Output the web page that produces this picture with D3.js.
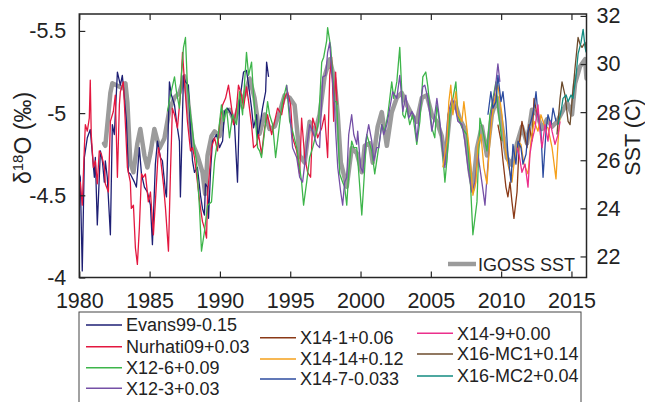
<!DOCTYPE html>
<html><head><meta charset="utf-8">
<script src="https://cdn.jsdelivr.net/npm/d3@7"></script>
<style>
html,body{margin:0;padding:0;background:#fff;}
svg text{font-family:"Liberation Sans",Arial,Helvetica,sans-serif;fill:#222;}
</style></head>
<body>
<svg id="chart" width="645" height="402"></svg>
<script>
// ---------------- data ----------------
const xTicks = [1980,1985,1990,1995,2000,2005,2010,2015];
const leftTicks = [-5.5,-5,-4.5,-4];
const rightTicks = [22,24,26,28,30,32];

const igoss = [[1981.76,26.7],[1981.85,26.6],[1982.21,28.8],[1982.35,29.2],[1982.71,29.1],[1983.06,29.0],[1983.28,29.2],[1983.42,28.4],[1983.63,25.9],[1983.85,25.5],[1984.13,26.7],[1984.34,27.3],[1984.63,26.2],[1984.84,25.7],[1985.06,26.3],[1985.34,27.3],[1985.70,26.5],[1986.05,26.9],[1986.41,28.1],[1986.77,28.6],[1987.12,28.8],[1987.48,29.5],[1987.69,28.7],[1988.05,26.7],[1988.40,26.2],[1988.76,25.5],[1988.95,24.6],[1989.12,26.2],[1989.40,27.0],[1989.62,27.2],[1989.97,27.0],[1990.33,28.0],[1990.68,28.1],[1991.04,27.6],[1991.40,28.4],[1991.75,28.7],[1992.11,29.4],[1992.46,28.6],[1992.82,27.1],[1993.18,27.9],[1993.53,27.3],[1993.89,27.4],[1994.25,28.0],[1994.60,28.7],[1994.96,28.6],[1995.31,28.3],[1995.67,26.2],[1996.03,25.9],[1996.38,27.6],[1996.74,27.1],[1997.09,27.9],[1997.45,29.5],[1997.81,30.2],[1998.16,29.3],[1998.38,27.9],[1998.60,25.9],[1999.02,24.9],[1999.37,26.5],[1999.73,26.3],[2000.09,25.5],[2000.30,26.6],[2000.66,26.7],[2000.87,25.9],[2001.22,27.4],[2001.51,28.0],[2001.87,26.6],[2002.22,28.0],[2002.58,28.6],[2002.93,28.8],[2003.29,28.3],[2003.65,27.9],[2004.00,27.6],[2004.36,28.6],[2004.72,28.7],[2005.07,27.9],[2005.43,27.6],[2005.78,27.0],[2006.00,25.9],[2006.35,27.9],[2006.71,28.4],[2007.07,27.7],[2007.42,27.3],[2007.78,25.5],[2007.99,24.8],[2008.28,26.5],[2008.63,27.4],[2008.99,26.2],[2009.34,27.9],[2009.70,28.6],[2010.06,27.4],[2010.41,26.1],[2010.77,25.8],[2011.13,26.7],[2011.48,27.4],[2011.84,26.7],[2012.19,28.1],[2012.55,27.9],[2012.91,27.3],[2013.26,27.7],[2013.62,27.4],[2013.97,27.6],[2014.33,28.0],[2014.69,28.4],[2015.04,27.9],[2015.26,29.2],[2015.61,29.9],[2015.97,30.2],[2016.07,29.4]];

const evans99 = [[1980.00,-4.63],[1980.07,-4.61],[1980.21,-4.04],[1980.36,-4.73],[1980.57,-4.85],[1980.78,-4.90],[1980.93,-4.75],[1981.07,-4.61],[1981.14,-4.73],[1981.28,-4.32],[1981.50,-4.77],[1981.64,-4.71],[1981.78,-4.58],[1981.85,-4.71],[1981.99,-4.61],[1982.21,-4.26],[1982.35,-4.93],[1982.49,-4.87],[1982.71,-5.25],[1982.92,-5.17],[1983.06,-5.23],[1983.21,-5.09],[1983.35,-4.95],[1983.49,-4.64],[1983.63,-4.63],[1983.92,-4.58],[1984.06,-4.55],[1984.27,-4.79],[1984.42,-4.63],[1984.63,-4.55],[1984.84,-4.52],[1985.06,-4.44],[1985.20,-4.20],[1985.41,-4.69],[1985.56,-4.83],[1985.77,-4.73],[1985.91,-4.71],[1986.13,-4.52],[1986.20,-4.49],[1986.41,-5.19],[1986.55,-5.11],[1986.77,-5.05],[1986.91,-4.95],[1987.12,-4.83],[1987.19,-4.49],[1987.41,-5.23],[1987.55,-5.19],[1987.76,-5.17],[1987.91,-4.89],[1988.05,-4.71],[1988.19,-4.64],[1988.40,-4.67],[1988.62,-4.50],[1988.76,-4.42],[1988.90,-4.38],[1988.97,-4.57],[1989.12,-4.55],[1989.19,-4.36],[1989.33,-4.64],[1989.47,-4.83],[1989.76,-4.87],[1989.97,-4.79],[1990.19,-4.83],[1990.33,-5.01],[1990.54,-5.03],[1990.83,-4.99],[1991.04,-4.93],[1991.25,-4.58],[1991.40,-5.07],[1991.54,-5.16],[1991.68,-5.25],[1991.89,-5.26],[1992.04,-5.17],[1992.25,-5.03],[1992.39,-4.91],[1992.61,-4.99],[1992.68,-4.85],[1992.89,-4.95],[1993.03,-5.03],[1993.25,-5.13],[1993.32,-5.31],[1993.46,-5.22]];

const nurhati09 = [[1980.00,-4.58],[1980.07,-4.58],[1980.21,-4.44],[1980.36,-4.79],[1980.43,-4.93],[1980.57,-4.89],[1980.71,-4.97],[1980.78,-5.20],[1980.85,-4.87],[1981.00,-4.67],[1981.14,-4.71],[1981.28,-4.57],[1981.42,-4.77],[1981.57,-4.75],[1981.78,-4.67],[1981.85,-4.57],[1982.07,-4.52],[1982.21,-4.95],[1982.42,-5.01],[1982.56,-5.11],[1982.71,-4.61],[1982.85,-5.05],[1982.92,-5.13],[1983.13,-5.19],[1983.28,-4.93],[1983.42,-4.67],[1983.63,-4.58],[1983.70,-4.42],[1983.85,-4.44],[1983.99,-4.18],[1984.13,-4.08],[1984.27,-4.30],[1984.42,-4.63],[1984.56,-4.61],[1984.70,-4.63],[1984.91,-4.46],[1985.06,-4.52],[1985.27,-4.26],[1985.41,-4.46],[1985.63,-4.79],[1985.77,-4.73],[1985.98,-4.57],[1986.13,-4.42],[1986.34,-4.16],[1986.48,-4.63],[1986.62,-5.03],[1986.77,-4.99],[1986.98,-4.91],[1987.19,-5.11],[1987.34,-5.37],[1987.48,-5.19],[1987.69,-4.95],[1987.91,-4.77],[1988.05,-4.79],[1988.19,-4.73],[1988.40,-4.58],[1988.62,-4.42],[1988.76,-4.34],[1988.90,-4.30],[1989.05,-4.24],[1989.12,-4.50],[1989.40,-4.79],[1989.62,-4.85],[1989.83,-4.77],[1989.97,-4.93],[1990.19,-5.05],[1990.40,-5.09],[1990.61,-5.17],[1990.83,-5.03],[1990.97,-4.93],[1991.18,-5.03],[1991.32,-5.17],[1991.54,-5.11],[1991.68,-5.03],[1991.89,-5.16],[1992.04,-5.07],[1992.25,-4.93],[1992.39,-4.79],[1992.61,-4.81],[1992.75,-4.87],[1992.96,-4.75],[1993.18,-4.91],[1993.39,-4.99],[1993.53,-4.93],[1993.68,-4.87],[1993.89,-4.95],[1994.10,-5.03],[1994.39,-4.99],[1994.60,-5.09],[1994.81,-5.13],[1995.03,-5.05],[1995.17,-4.85],[1995.46,-4.77],[1995.67,-4.63],[1995.81,-4.97],[1996.03,-4.73],[1996.24,-4.64],[1996.45,-4.61],[1996.60,-4.97],[1996.81,-4.91],[1996.95,-4.85],[1997.24,-4.91],[1997.45,-4.99],[1997.66,-4.73],[1997.81,-5.23],[1997.95,-5.34],[1998.09,-4.95],[1998.23,-5.25],[1998.33,-5.05]];

const x12_6 = [[1986.27,-5.01],[1986.48,-5.11],[1986.77,-5.22],[1986.91,-5.13],[1987.12,-5.03],[1987.26,-5.23],[1987.41,-5.40],[1987.55,-5.46],[1987.69,-5.16],[1987.91,-4.99],[1988.19,-4.79],[1988.33,-4.71],[1988.55,-4.42],[1988.69,-4.16],[1988.90,-4.28],[1989.12,-4.44],[1989.40,-4.46],[1989.62,-4.71],[1989.83,-4.83],[1990.11,-5.05],[1990.26,-4.95],[1990.47,-5.03],[1990.68,-4.85],[1990.90,-4.99],[1991.18,-4.93],[1991.40,-5.13],[1991.61,-4.99],[1991.89,-5.37],[1992.04,-5.23],[1992.25,-5.31],[1992.39,-5.11],[1992.68,-4.79],[1992.82,-4.77],[1992.96,-4.73],[1993.18,-4.89],[1993.39,-5.07],[1993.53,-4.99],[1993.75,-4.93],[1993.96,-4.73],[1994.10,-4.83],[1994.32,-4.99],[1994.46,-5.07],[1994.74,-5.17],[1994.96,-4.95],[1995.17,-4.89],[1995.46,-4.79],[1995.67,-4.67],[1995.81,-4.58],[1995.95,-4.44],[1996.17,-4.58],[1996.38,-4.73],[1996.60,-4.79],[1996.88,-4.89],[1997.02,-4.95],[1997.24,-5.31],[1997.38,-5.34],[1997.59,-5.44],[1997.66,-5.52],[1997.88,-5.40],[1998.02,-5.23],[1998.16,-5.07],[1998.30,-5.07],[1998.52,-4.63],[1998.73,-4.58],[1998.87,-4.55],[1999.02,-4.44],[1999.16,-4.64],[1999.37,-4.83],[1999.52,-4.79],[1999.73,-4.79],[1999.87,-4.64],[2000.09,-4.38],[2000.23,-4.57],[2000.44,-4.87],[2000.58,-4.83],[2000.80,-4.77],[2001.01,-4.63],[2001.22,-4.75],[2001.51,-4.93],[2001.72,-4.89],[2001.94,-4.99],[2002.22,-5.19],[2002.36,-5.09],[2002.58,-5.19],[2002.79,-5.40],[2003.01,-4.99],[2003.15,-4.97],[2003.29,-5.03],[2003.50,-4.93],[2003.72,-4.99],[2004.00,-4.81],[2004.22,-4.95],[2004.43,-5.22],[2004.64,-5.25],[2004.79,-5.16],[2005.07,-4.91],[2005.28,-4.85],[2005.43,-5.05],[2005.64,-4.93],[2005.85,-4.75],[2006.00,-4.58],[2006.14,-4.71],[2006.35,-4.99],[2006.57,-5.09],[2006.78,-5.19],[2006.92,-4.99],[2007.21,-4.91],[2007.56,-4.87],[2007.78,-4.64],[2007.99,-4.26],[2008.28,-4.46],[2008.49,-4.97],[2008.70,-4.89],[2008.99,-4.77],[2009.20,-4.99],[2009.42,-5.09],[2009.63,-5.19],[2009.77,-5.03],[2010.06,-4.83]];

const x12_3 = [[1994.74,-5.17],[1994.96,-5.01],[1995.17,-4.79],[1995.46,-4.73],[1995.67,-4.61],[1995.88,-4.58],[1996.17,-4.79],[1996.38,-4.93],[1996.60,-4.89],[1996.88,-4.81],[1997.09,-4.79],[1997.31,-5.22],[1997.52,-5.23],[1997.66,-5.37],[1997.81,-5.43],[1997.95,-5.25],[1998.16,-5.03],[1998.23,-4.89],[1998.38,-4.67],[1998.59,-4.52],[1998.73,-4.44],[1998.87,-4.58],[1999.02,-4.61],[1999.16,-4.87],[1999.37,-4.99],[1999.52,-4.87],[1999.73,-4.81],[1999.80,-4.89],[2000.01,-4.67],[2000.16,-4.64],[2000.37,-4.83],[2000.58,-4.93],[2000.80,-4.83],[2000.94,-4.71],[2001.15,-4.79],[2001.30,-4.79],[2001.51,-4.93],[2001.65,-4.87],[2001.87,-4.93],[2002.08,-5.03],[2002.29,-5.13],[2002.58,-5.09],[2002.79,-5.23],[2003.01,-5.01],[2003.22,-5.11],[2003.43,-4.97],[2003.65,-5.01],[2003.86,-4.97],[2004.00,-4.83],[2004.22,-5.03],[2004.43,-5.16],[2004.57,-5.17],[2004.79,-5.09],[2005.07,-4.89],[2005.28,-4.99],[2005.43,-5.09],[2005.64,-4.95],[2005.85,-4.77],[2006.00,-4.67],[2006.21,-4.99],[2006.50,-5.09],[2006.71,-5.05],[2006.92,-4.95],[2007.21,-4.93],[2007.42,-4.83],[2007.64,-4.67],[2007.92,-4.52],[2008.13,-4.58],[2008.35,-4.75],[2008.63,-4.58],[2008.85,-4.44],[2009.06,-4.69],[2009.34,-5.03],[2009.56,-5.13],[2009.77,-5.30],[2009.91,-5.19]];

const x14_1 = [[2009.77,-4.93],[2009.99,-4.83],[2010.13,-4.71],[2010.34,-4.55],[2010.48,-4.49],[2010.63,-4.58],[2010.77,-4.46],[2010.91,-4.36],[2011.13,-4.52],[2011.27,-4.79],[2011.48,-4.95],[2011.62,-4.89],[2011.84,-4.79],[2011.98,-4.93],[2012.19,-4.83],[2012.34,-5.09],[2012.55,-4.99]];

const x14_14 = [[2005.85,-4.67],[2006.14,-4.83],[2006.28,-5.07],[2006.42,-5.17],[2006.57,-4.99],[2006.78,-5.13],[2006.92,-4.99],[2007.21,-4.95],[2007.35,-5.07],[2007.56,-4.91],[2007.78,-4.75],[2007.99,-4.50],[2008.21,-4.58],[2008.35,-4.81],[2008.56,-4.87],[2008.77,-4.67],[2008.99,-4.57],[2009.20,-4.83],[2009.34,-4.97],[2009.56,-5.09],[2009.77,-5.17],[2010.06,-4.99],[2010.27,-4.79],[2010.48,-4.69],[2010.77,-4.58],[2010.91,-4.69],[2011.20,-4.83],[2011.41,-4.81],[2011.62,-4.69],[2011.91,-4.63],[2012.12,-4.83],[2012.34,-4.95],[2012.62,-4.89],[2012.83,-4.99],[2013.05,-4.93],[2013.33,-4.91],[2013.62,-4.79],[2013.90,-4.60],[2014.05,-4.83],[2014.19,-4.99]];

const x14_7 = [[2009.06,-4.99],[2009.27,-5.13],[2009.42,-5.03],[2009.63,-5.07],[2009.77,-5.23],[2009.99,-5.07],[2010.13,-5.13],[2010.34,-4.95],[2010.48,-4.75],[2010.70,-4.58],[2010.84,-4.81],[2011.05,-4.69],[2011.20,-4.83],[2011.41,-4.79],[2011.55,-4.69],[2011.77,-4.75],[2011.91,-4.89],[2012.12,-4.95],[2012.34,-5.03],[2012.48,-5.13],[2012.62,-4.99],[2012.83,-4.89],[2012.98,-4.61],[2013.19,-4.89],[2013.33,-4.99],[2013.55,-4.93],[2013.69,-5.03],[2013.90,-4.95]];

const x14_9 = [[2011.13,-4.79],[2011.27,-4.75],[2011.48,-4.64],[2011.70,-4.69],[2011.91,-4.55],[2012.05,-4.75],[2012.19,-4.83],[2012.41,-4.91],[2012.62,-5.05],[2012.76,-4.89],[2012.91,-4.79],[2013.12,-4.93],[2013.33,-4.83],[2013.48,-4.95],[2013.62,-4.89],[2013.83,-4.81],[2014.05,-4.87],[2014.19,-4.95]];

const x16_mc1 = [[2013.97,-4.87],[2014.19,-5.09],[2014.33,-5.19],[2014.54,-5.11],[2014.76,-4.95],[2014.90,-4.93],[2015.04,-5.07],[2015.26,-5.28],[2015.47,-5.46],[2015.61,-5.42],[2015.75,-5.40],[2015.97,-5.43],[2016.04,-5.38]];

const x16_mc2 = [[2014.05,-4.93],[2014.26,-5.01],[2014.40,-5.09],[2014.62,-5.11],[2014.76,-5.07],[2014.97,-5.11],[2015.11,-5.09],[2015.33,-5.23],[2015.47,-5.36],[2015.68,-5.43],[2015.83,-5.51],[2015.97,-5.40],[2016.04,-5.37]];

const seriesNames = ["Evans99-0.15","Nurhati09+0.03","X12-6+0.09","X12-3+0.03","X14-1+0.06","X14-14+0.12","X14-7-0.033","X14-9+0.00","X16-MC1+0.14","X16-MC2+0.04"];
const seriesData = [evans99, nurhati09, x12_6, x12_3, x14_1, x14_14, x14_7, x14_9, x16_mc1, x16_mc2];
const seriesColors = ["#1e1f74","#e3173f","#3db54a","#7550a6","#8a3916","#f5a01b","#2c4b9f","#eb2f8c","#6c4b2c","#128b80"];

// ---------------- layout ----------------
const svg = d3.select("#chart");
const L = 79.3, R = 586.5, T = 14, B = 277.5;
const x = d3.scaleLinear().domain([1980, 2016.07]).range([L, R]);
const yL = d3.scaleLinear().domain([-4, -5.603]).range([B, T]);
const yR = d3.scaleLinear().domain([21.125, 32.08]).range([B, T]);
const axisColor = "#262626";

svg.append("rect").attr("width",645).attr("height",402).attr("fill","#fff");

svg.append("defs").append("clipPath").attr("id","clip")
  .append("rect").attr("x",L).attr("y",T).attr("width",R-L).attr("height",B-T);

const plot = svg.append("g").attr("clip-path","url(#clip)");

// IGOSS SST (gray, right axis)
plot.append("path").datum(igoss)
  .attr("fill","none").attr("stroke","#9b9b9b").attr("stroke-width",4.5)
  .attr("stroke-linejoin","round").attr("stroke-linecap","round")
  .attr("d", d3.line().x(d=>x(d[0])).y(d=>yR(d[1])));

// coral series (left axis)
const lineL = d3.line().x(d=>x(d[0])).y(d=>yL(d[1]));
seriesData.forEach((s,i)=>{
  plot.append("path").datum(s)
    .attr("fill","none").attr("stroke",seriesColors[i]).attr("stroke-width",1.3)
    .attr("stroke-linejoin","round")
    .attr("d", lineL);
});

// axes
const fontSize = "21.5px";
function style(g){
  g.select(".domain").remove();
  g.selectAll(".tick line").attr("stroke",axisColor).attr("stroke-width",1.2);
  g.selectAll(".tick text").attr("fill","#222").style("font-size",fontSize)
   .style("font-family","'Liberation Sans',Arial,Helvetica,sans-serif");
}
svg.append("g").attr("transform",`translate(0,${B})`)
  .call(d3.axisBottom(x).tickValues(xTicks).tickFormat(d=>String(d)).tickSizeInner(-6).tickSizeOuter(0).tickPadding(15.5))
  .call(style);
svg.append("g").attr("transform",`translate(0,${T})`)
  .call(d3.axisTop(x).tickValues(xTicks).tickFormat("").tickSizeInner(-6).tickSizeOuter(0))
  .call(style);
svg.append("g").attr("transform",`translate(${L},0)`)
  .call(d3.axisLeft(yL).tickValues(leftTicks).tickFormat(d=>String(d)).tickSizeInner(-6).tickSizeOuter(0).tickPadding(13))
  .call(style);
svg.append("g").attr("transform",`translate(${R},0)`)
  .call(d3.axisRight(yR).tickValues(rightTicks).tickFormat(d=>String(d)).tickSizeInner(-6).tickSizeOuter(0).tickPadding(10))
  .call(style);

// frame
svg.append("rect").attr("x",L).attr("y",T).attr("width",R-L).attr("height",B-T)
  .attr("fill","none").attr("stroke",axisColor).attr("stroke-width",1.5);

// axis titles
const yt = svg.append("text").attr("transform","translate(31,138) rotate(-90)")
  .attr("text-anchor","middle").style("font-size","23px");
yt.append("tspan").text("δ");
yt.append("tspan").attr("dy","-8").style("font-size","15px").text("18");
yt.append("tspan").attr("dy","8").text("O (‰)");

svg.append("text").attr("transform","translate(640,137) rotate(-90)")
  .attr("text-anchor","middle").style("font-size","21.5px").text("SST (C)");

// in-plot legend for IGOSS
svg.append("line").attr("x1",448).attr("x2",476).attr("y1",264).attr("y2",264)
  .attr("stroke","#9b9b9b").attr("stroke-width",4.5);
svg.append("text").attr("x",478).attr("y",270.5).style("font-size","18px").text("IGOSS SST");

// legend box
svg.append("rect").attr("x",79).attr("y",312).attr("width",502).attr("height",110)
  .attr("fill","#fff").attr("stroke","#444").attr("stroke-width",1);
const legPos = [
  [86,325],[86,346.7],[86,367.7],[86,388.3],
  [260,337.7],[260,359],[260,379],
  [417,333.3],[417,354],[417,376]
];
seriesNames.forEach((n,i)=>{
  const [lx,ly] = legPos[i];
  svg.append("line").attr("x1",lx).attr("x2",lx+36).attr("y1",ly).attr("y2",ly)
    .attr("stroke",seriesColors[i]).attr("stroke-width",1.6);
  svg.append("text").attr("x",lx+40).attr("y",ly+6.3).style("font-size","18px").text(n);
});
</script>
</body></html>
